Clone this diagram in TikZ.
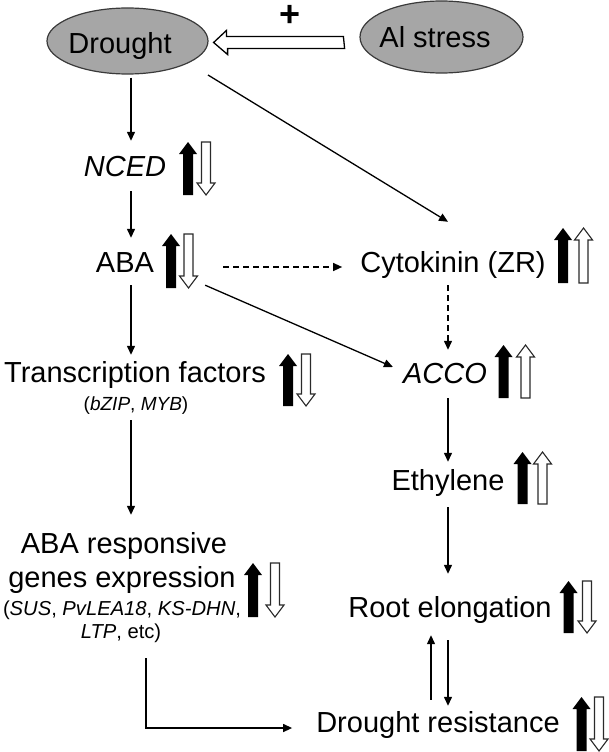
\documentclass[tikz,border=0pt]{standalone}
\usepackage{fontspec}
\setmainfont{Liberation Sans}
\usetikzlibrary{arrows.meta,shapes.geometric}
\definecolor{ovalfill}{HTML}{A6A6A6}
\definecolor{ovalline}{HTML}{3A3A3A}
\definecolor{hollline}{HTML}{2A2A2A}
\newcommand\blkup[3]{\fill ({#1-5},#3) -- ({#1+5},#3) -- ({#1+5},{#2+12}) -- ({#1+9},{#2+12}) -- (#1,#2) -- ({#1-9},{#2+12}) -- ({#1-5},{#2+12}) -- cycle;}
\newcommand\hollup[3]{\draw[hollow] ({#1-4.5},#3) -- ({#1+4.5},#3) -- ({#1+4.5},{#2+12}) -- ({#1+9},{#2+12}) -- (#1,#2) -- ({#1-9},{#2+12}) -- ({#1-4.5},{#2+12}) -- cycle;}
\newcommand\holldown[3]{\draw[hollow] ({#1-4.5},#2) -- ({#1+4.5},#2) -- ({#1+4.5},{#3-12}) -- ({#1+9},{#3-12}) -- (#1,#3) -- ({#1-9},{#3-12}) -- ({#1-4.5},{#3-12}) -- cycle;}
\begin{document}
\begin{tikzpicture}[x=1pt,y=-1pt,
  lbl/.style={anchor=base, inner sep=0pt, font=\fontsize{29}{33}\selectfont, text height=21pt, text depth=6pt},
  sub/.style={anchor=base, inner sep=0pt, font=\fontsize{19}{22}\selectfont, text height=14pt, text depth=4pt},
  subb/.style={anchor=base, inner sep=0pt, font=\fontsize{20.2}{24}\selectfont, text height=15pt, text depth=5pt},
  oval/.style={ellipse, draw=ovalline, fill=ovalfill, line width=1.2pt, inner sep=0pt},
  conn/.style={line width=1.3pt, -{Triangle[length=9pt,width=8pt]}},
  dconn/.style={conn, dash pattern=on 6pt off 4pt},
  hollow/.style={draw=hollline, line width=1.1pt, fill=white},
]
\useasboundingbox (0,0) rectangle (609,752);

% ovals
\node[oval, minimum width=161pt, minimum height=66pt] (drought) at (127.5,41) {};
\node[lbl] (droughttxt) at (120,53) {Drought};
\node[oval, minimum width=163pt, minimum height=72pt] (alstress) at (441.5,37) {};
\node[lbl] (alstresstxt) at (435,48) {Al stress};
\node[inner sep=0pt, font=\fontsize{36}{36}\selectfont\bfseries] (plus) at (290,16) {+};

% big hollow arrow
\coordinate (bt) at ([shift={(5,1.5)}]drought.east);
\coordinate (ba) at ([shift={(-16,5.5)}]alstress.west);
\draw[line width=1.3pt, fill=white] (ba) ++(0,-6) -- ++(-117,0) -- ++(0,-6) -- (bt) -- ++(14,12) -- ++(0,-6) -- ++(117,0) -- cycle;

% labels
\node[lbl] (nced) at (125,176) {\itshape NCED};
\node[lbl] (aba) at (125,272) {ABA};
\node[lbl] (tf) at (135,382) {Transcription factors};
\node[sub] (bzip) at (136,410) {(\textit{bZIP}, \textit{MYB})};
\node[lbl] (abaresp1) at (124,553) {ABA responsive};
\node[lbl] (abaresp2) at (122,587) {genes expression};
\node[subb] (abaresp3) at (122,615) {(\textit{SUS}, \textit{PvLEA18}, \textit{KS-DHN},};
\node[subb] (abaresp4) at (121,638) {\textit{LTP}, etc)};
\node[lbl] (cyto) at (453,272) {Cytokinin (ZR)};
\node[lbl] (acco) at (445,383) {\itshape ACCO};
\node[lbl] (eth) at (448,490) {Ethylene};
\node[lbl] (root) at (450,617) {Root elongation};
\node[lbl] (dres) at (438,732) {Drought resistance};

% connectors
\draw[conn] ([shift={(3.5,3)}]drought.south) -- ([shift={(6,-14)}]nced.north);
\draw[conn] ([shift={(80.5,34)}]drought.center) -- ([shift={(-5,-29)}]cyto.north);
\draw[conn] ([shift={(6,9)}]nced.south) -- ([shift={(6,-13)}]aba.north);
\draw[dconn] ([shift={(69,2.5)}]aba.east) -- ([shift={(-18,2.5)}]cyto.west);
\draw[conn] ([shift={(51,7)}]aba.south east) -- ([shift={(-10,-8.5)}]acco.west);
\draw[conn] ([shift={(6,7)}]aba.south) -- ([shift={(-4,-6)}]tf.north);
\draw[dconn] ([shift={(-5,7)}]cyto.south) -- ([shift={(3,-12)}]acco.north);
\draw[conn] ([shift={(3,9)}]acco.south) -- ([shift={(0,-7)}]eth.north);
\draw[conn] ([shift={(-5,6)}]bzip.south) -- ([shift={(7,-17)}]abaresp1.north);
\draw[conn] ([shift={(0,11)}]eth.south) -- ([shift={(-2,-22)}]root.north);
\draw[conn] ([shift={(-2,17)}]root.south) -- ([shift={(10,-5)}]dres.north);
\draw[conn] ([shift={(-7,-11)}]dres.north) -- ([shift={(-19,12)}]root.south);
\draw[conn] ([shift={(25,15)}]abaresp4.south) |- ([shift={(-24,3.5)}]dres.west);

% up/down indicators
\blkup{188}{142}{195} \holldown{206}{142}{195}
\blkup{171}{234}{288} \holldown{188.5}{234}{288}
\blkup{288}{354}{406} \holldown{306}{354}{406}
\blkup{253}{563}{617} \holldown{275}{563}{617}
\blkup{563}{228}{283} \hollup{583.5}{228}{283}
\blkup{503.5}{345}{398} \hollup{525.5}{345}{398}
\blkup{522.5}{452}{504} \hollup{542.5}{452}{504}
\blkup{568.5}{581}{633} \holldown{587}{581}{633}
\blkup{581.5}{697}{751} \holldown{599}{697}{751}
\end{tikzpicture}
\end{document}
